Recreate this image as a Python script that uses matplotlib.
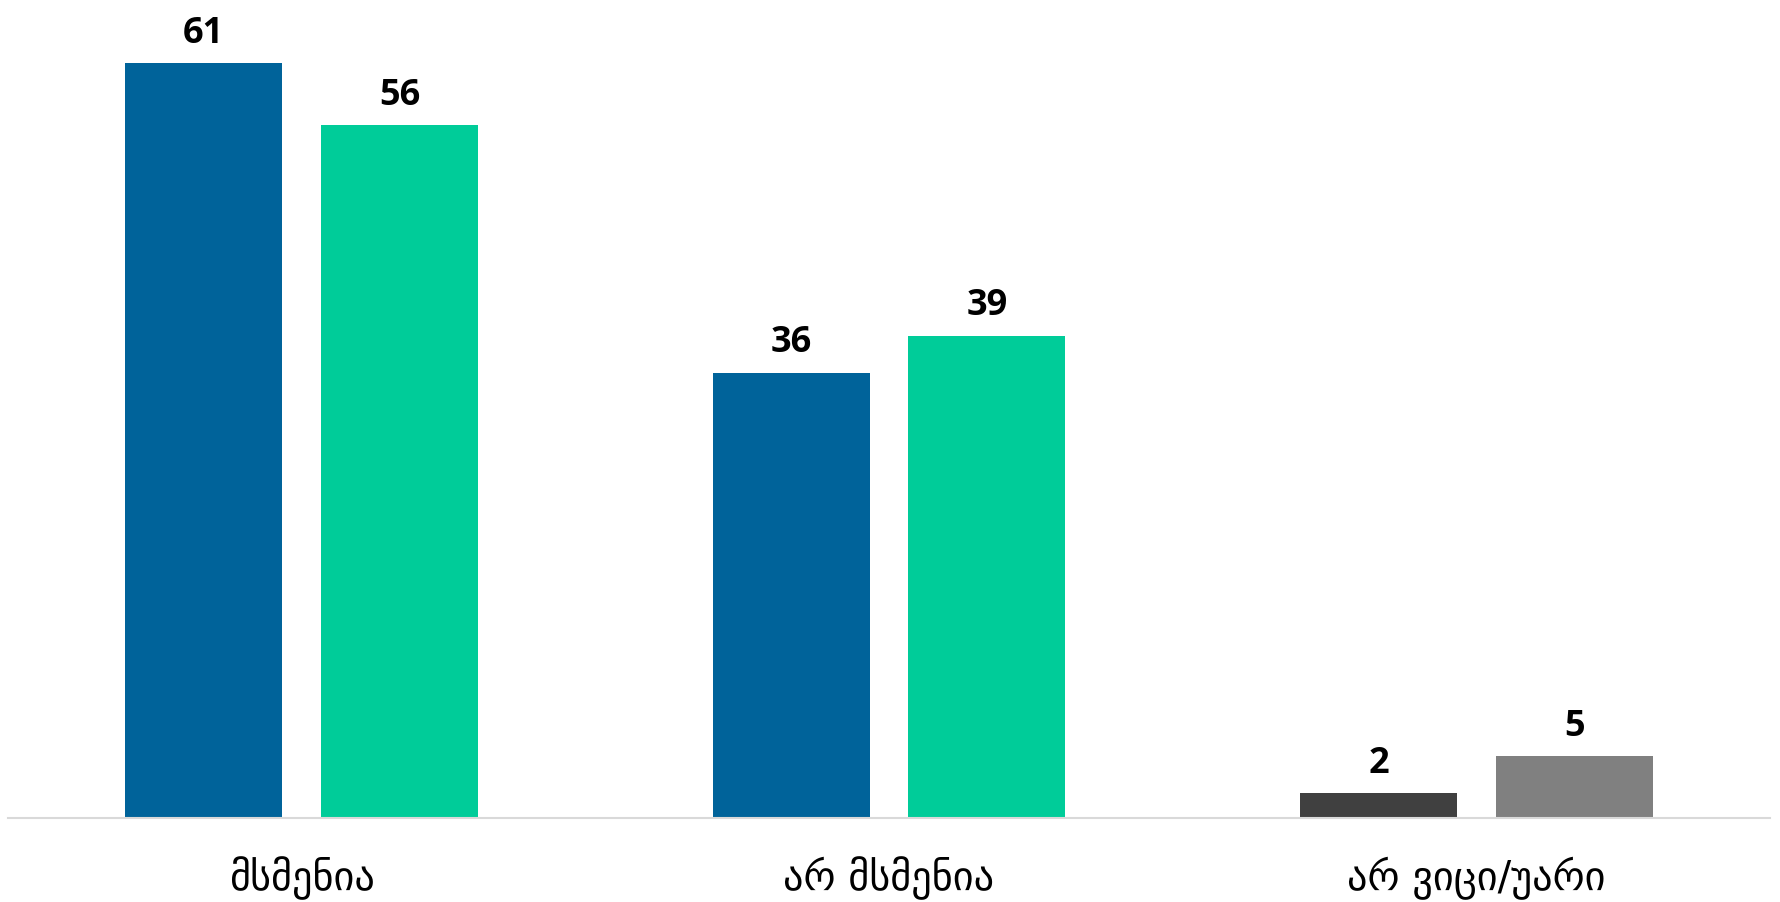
import matplotlib
matplotlib.use("Agg")
import matplotlib.pyplot as plt
import numpy as np

categories = ["მსმენია", "არ მსმენია", "არ ვიცი/უარი"]
series_a = [61, 36, 2]
series_b = [56, 39, 5]
colors_a = ["#00639A", "#00639A", "#404040"]
colors_b = ["#00CC99", "#00CC99", "#808080"]

fig = plt.figure(figsize=(17.81, 9.03), dpi=100)
ax = fig.add_axes([8/1781, 1 - 819/903, (1770-8)/1781, 819/903])

x = np.arange(len(categories))
w = 0.267
off = 0.1667
bars_a = ax.bar(x - off, series_a, width=w, color=colors_a, zorder=2)
bars_b = ax.bar(x + off, series_b, width=w, color=colors_b, zorder=2)

for bars, vals in ((bars_a, series_a), (bars_b, series_b)):
    for b, v in zip(bars, vals):
        ax.annotate(str(v), (b.get_x() + b.get_width()/2, v),
                    xytext=(0, 9), textcoords="offset points",
                    ha="center", va="bottom", fontsize=26,
                    fontweight="bold", family=["Open Sans", "DejaVu Sans"], color="#000000")

ax.set_xlim(-0.5, 2.5)
ax.set_ylim(0, 66.2)
ax.set_yticks([])
ax.set_xticks(x)
ax.set_xticklabels(categories, fontsize=29, family=["DejaVu Sans"])
ax.tick_params(axis="x", length=0, pad=27)
for s in ("top", "right", "left"):
    ax.spines[s].set_visible(False)
ax.spines["bottom"].set_color("#D9D9D9")
ax.spines["bottom"].set_linewidth(1.5)
ax.patch.set_alpha(0)

fig.savefig("out.png", dpi=100, facecolor="white")
